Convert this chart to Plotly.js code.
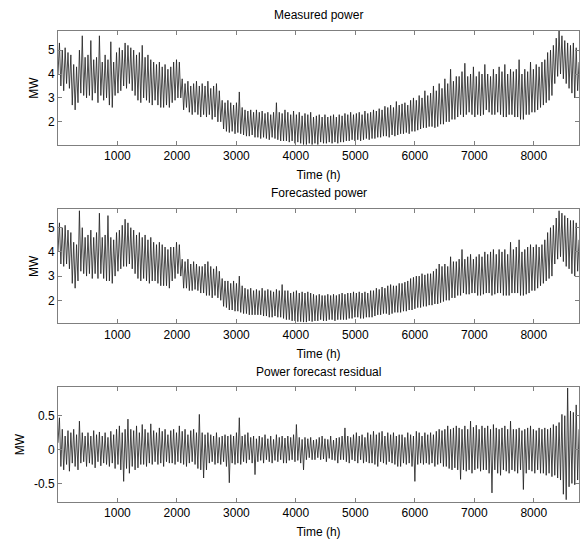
<!DOCTYPE html>
<html>
<head>
<meta charset="utf-8">
<script src="https://cdn.plot.ly/plotly-3.0.1.min.js"></script>
<style>html,body{margin:0;padding:0;background:#fff;}#chart{width:581px;height:539px;}</style>
</head>
<body>
<div id="chart"></div>
<script>
// Hours between consecutive read points
const stepHours = 24;

// Measured power (MW): alternating read peaks / troughs, one row per 480 h
const measuredPower = [
  4.0, 5.3, 3.5, 5.0, 3.3, 5.1, 3.6, 4.9, 3.4, 4.8, 2.7, 4.4, 2.5, 4.3, 2.8, 5.0, 3.2, 5.6, 3.1, 4.7,
  3.0, 4.8, 3.1, 5.4, 2.9, 4.6, 3.2, 4.7, 2.8, 5.6, 3.1, 4.5, 2.9, 4.8, 3.0, 4.6, 2.7, 5.35, 2.6, 4.5,
  3.1, 4.9, 3.2, 5.1, 3.3, 5.0, 3.5, 5.3, 3.4, 5.2, 3.6, 5.1, 3.3, 5.0, 3.1, 4.8, 2.9, 4.9, 2.8, 5.2,
  3.0, 4.7, 2.9, 4.8, 2.8, 4.6, 2.7, 4.5, 2.9, 4.4, 2.7, 4.5, 2.6, 4.3, 2.6, 4.4, 2.7, 4.2, 2.6, 4.3,
  2.8, 4.5, 2.9, 4.6, 3.0, 4.5, 3.0, 3.8, 2.5, 3.6, 2.6, 3.7, 2.4, 3.5, 2.3, 3.6, 2.4, 3.7, 2.3, 3.5,
  2.2, 3.6, 2.3, 3.5, 2.2, 3.7, 2.3, 3.4, 2.1, 3.5, 2.2, 3.6, 2.0, 3.3, 2.0, 2.9, 1.7, 2.8, 1.6, 2.9,
  1.55, 2.8, 1.6, 2.7, 1.5, 2.8, 1.55, 3.25, 1.5, 2.6, 1.45, 2.5, 1.4, 2.45, 1.4, 2.5, 1.45, 2.4, 1.35, 2.5,
  1.35, 2.4, 1.3, 2.45, 1.35, 2.35, 1.3, 2.4, 1.25, 2.3, 1.35, 2.4, 1.3, 2.8, 1.25, 2.4, 1.2, 2.35, 1.2, 2.5,
  1.2, 2.4, 1.15, 2.3, 1.2, 2.45, 1.1, 2.3, 1.15, 2.4, 1.1, 2.25, 1.05, 2.35, 1.05, 2.3, 1.1, 2.4, 1.05, 2.2,
  1.1, 2.25, 1.05, 2.3, 1.15, 2.2, 1.1, 2.3, 1.1, 2.2, 1.15, 2.25, 1.1, 2.3, 1.15, 2.2, 1.1, 2.3, 1.15, 2.25,
  1.15, 2.35, 1.2, 2.3, 1.2, 2.4, 1.25, 2.3, 1.2, 2.35, 1.25, 2.4, 1.2, 2.3, 1.25, 2.45, 1.3, 2.35, 1.25, 2.4,
  1.3, 2.5, 1.3, 2.45, 1.35, 2.55, 1.35, 2.5, 1.4, 2.65, 1.4, 2.6, 1.35, 2.7, 1.45, 2.6, 1.4, 2.85, 1.45, 2.7,
  1.5, 2.75, 1.5, 2.8, 1.55, 2.7, 1.5, 2.9, 1.6, 3.0, 1.6, 2.9, 1.65, 3.1, 1.7, 3.0, 1.75, 3.3, 1.75, 3.1,
  1.8, 3.2, 1.8, 3.5, 1.75, 3.3, 1.8, 3.6, 1.9, 3.4, 1.9, 3.8, 2.0, 3.6, 2.0, 4.2, 2.1, 3.7, 2.1, 3.9,
  2.2, 3.9, 2.3, 4.1, 2.2, 4.45, 2.3, 3.9, 2.4, 4.0, 2.3, 4.3, 2.2, 3.9, 2.3, 4.1, 2.25, 4.0, 2.3, 4.4,
  2.5, 4.0, 2.4, 3.9, 2.3, 4.2, 2.3, 4.0, 2.4, 4.3, 2.3, 4.1, 2.2, 4.4, 2.2, 4.0, 2.3, 4.2, 2.3, 4.1,
  2.2, 4.2, 2.2, 4.6, 2.1, 4.0, 2.1, 4.2, 2.3, 4.1, 2.3, 4.5, 2.4, 4.2, 2.4, 4.4, 2.5, 4.3, 2.6, 4.5,
  2.7, 4.6, 2.8, 4.9, 2.9, 5.0, 3.1, 5.2, 3.6, 5.5, 3.9, 5.8, 4.0, 5.6, 3.8, 5.4, 3.6, 5.3, 3.4, 5.2,
  3.2, 5.3, 3.0, 5.1, 3.3, 4.5
];

// Forecasted power (MW)
const forecastPower = [
  4.0, 5.2, 3.5, 5.0, 3.4, 5.1, 3.5, 4.9, 3.3, 4.8, 2.7, 4.4, 2.5, 4.3, 2.8, 5.7, 3.2, 5.0, 3.1, 4.6,
  3.0, 4.7, 3.1, 4.9, 2.9, 4.6, 3.1, 4.8, 2.9, 5.6, 3.1, 4.6, 2.9, 4.7, 2.8, 5.5, 2.8, 4.6, 2.7, 4.5,
  3.0, 4.8, 3.2, 4.9, 3.3, 5.1, 3.4, 5.35, 3.4, 5.2, 3.5, 5.0, 3.3, 4.9, 3.1, 4.7, 2.9, 4.8, 2.8, 4.6,
  2.9, 4.7, 2.8, 4.5, 2.7, 4.6, 2.8, 4.4, 2.8, 4.3, 2.7, 4.4, 2.6, 4.3, 2.6, 4.2, 2.6, 4.1, 2.5, 4.2,
  2.8, 4.2, 2.9, 4.4, 3.1, 4.3, 3.0, 3.7, 2.5, 3.6, 2.5, 3.7, 2.4, 3.5, 2.4, 3.6, 2.45, 3.5, 2.4, 3.4,
  2.3, 3.4, 2.3, 3.5, 2.2, 3.6, 2.2, 3.4, 2.1, 3.3, 2.2, 3.4, 2.1, 3.2, 2.0, 2.9, 1.75, 2.8, 1.7, 2.8,
  1.6, 2.7, 1.6, 2.8, 1.55, 2.7, 1.55, 3.0, 1.5, 2.6, 1.45, 2.5, 1.45, 2.45, 1.4, 2.5, 1.4, 2.4, 1.4, 2.45,
  1.4, 2.4, 1.4, 2.5, 1.35, 2.4, 1.35, 2.45, 1.3, 2.4, 1.3, 2.35, 1.35, 2.45, 1.3, 2.4, 1.3, 2.65, 1.25, 2.4,
  1.2, 2.4, 1.2, 2.3, 1.15, 2.35, 1.15, 2.4, 1.12, 2.3, 1.12, 2.35, 1.1, 2.3, 1.1, 2.35, 1.15, 2.3, 1.12, 2.25,
  1.15, 2.2, 1.15, 2.25, 1.2, 2.2, 1.15, 2.2, 1.15, 2.25, 1.2, 2.2, 1.2, 2.25, 1.15, 2.2, 1.2, 2.25, 1.2, 2.3,
  1.2, 2.25, 1.2, 2.3, 1.25, 2.3, 1.25, 2.35, 1.3, 2.3, 1.3, 2.35, 1.25, 2.3, 1.25, 2.35, 1.3, 2.3, 1.3, 2.4,
  1.3, 2.4, 1.35, 2.5, 1.4, 2.45, 1.4, 2.55, 1.45, 2.5, 1.45, 2.6, 1.4, 2.65, 1.45, 2.6, 1.5, 2.6, 1.5, 2.7,
  1.5, 2.7, 1.55, 2.75, 1.55, 2.8, 1.6, 2.9, 1.6, 2.95, 1.65, 3.0, 1.7, 3.0, 1.7, 3.1, 1.75, 3.05, 1.75, 3.1,
  1.8, 3.1, 1.8, 3.2, 1.85, 3.3, 1.85, 3.5, 1.9, 3.4, 1.95, 3.5, 2.0, 3.4, 2.0, 3.8, 2.1, 3.6, 2.1, 3.6,
  2.2, 3.7, 2.2, 4.1, 2.3, 3.7, 2.25, 3.8, 2.25, 3.9, 2.3, 3.7, 2.3, 3.8, 2.2, 3.9, 2.2, 3.8, 2.25, 4.0,
  2.3, 3.9, 2.3, 4.0, 2.2, 4.1, 2.25, 3.9, 2.3, 4.1, 2.3, 4.0, 2.2, 4.1, 2.2, 3.9, 2.2, 4.4, 2.3, 4.1,
  2.3, 4.2, 2.3, 4.5, 2.2, 4.0, 2.2, 4.1, 2.25, 4.2, 2.3, 4.3, 2.4, 4.2, 2.4, 4.3, 2.5, 4.2, 2.6, 4.3,
  2.7, 4.5, 2.8, 4.8, 2.9, 5.0, 3.0, 5.1, 3.5, 5.4, 3.7, 5.7, 3.8, 5.6, 3.6, 5.5, 3.4, 5.4, 3.3, 5.3,
  3.1, 5.3, 3.0, 5.2, 3.2, 4.5
];

// Power forecast residual (MW)
const residualPower = [
  0.1, 0.47, -0.25, 0.3, -0.3, 0.2, -0.22, 0.28, -0.32, 0.25, -0.2, 0.3, -0.25, 0.22, -0.3, 0.42, -0.2, 0.25, -0.18, 0.2,
  -0.25, 0.25, -0.2, 0.2, -0.22, 0.28, -0.27, 0.22, -0.18, 0.26, -0.24, 0.2, -0.2, 0.25, -0.22, 0.18, -0.25, 0.27, -0.2, 0.22,
  -0.28, 0.3, -0.22, 0.35, -0.3, 0.25, -0.47, 0.3, -0.28, 0.45, -0.35, 0.3, -0.25, 0.28, -0.3, 0.35, -0.27, 0.25, -0.22, 0.37,
  -0.22, 0.3, -0.25, 0.25, -0.2, 0.38, -0.22, 0.28, -0.18, 0.25, -0.22, 0.32, -0.2, 0.27, -0.25, 0.3, -0.18, 0.22, -0.2, 0.28,
  -0.2, 0.3, -0.22, 0.25, -0.18, 0.35, -0.2, 0.27, -0.22, 0.3, -0.25, 0.22, -0.2, 0.28, -0.18, 0.3, -0.22, 0.25, -0.28, 0.52,
  -0.3, 0.25, -0.42, 0.22, -0.3, 0.25, -0.2, 0.22, -0.18, 0.2, -0.22, 0.25, -0.2, 0.18, -0.22, 0.2, -0.18, 0.22, -0.25, 0.2,
  -0.49, 0.22, -0.2, 0.2, -0.22, 0.25, -0.2, 0.47, -0.22, 0.2, -0.18, 0.22, -0.2, 0.25, -0.15, 0.18, -0.2, 0.2, -0.37, 0.16,
  -0.18, 0.2, -0.16, 0.18, -0.2, 0.22, -0.15, 0.16, -0.18, 0.2, -0.2, 0.15, -0.16, 0.22, -0.18, 0.18, -0.15, 0.2, -0.2, 0.17,
  -0.2, 0.2, -0.16, 0.18, -0.15, 0.22, -0.18, 0.37, -0.16, 0.18, -0.2, 0.15, -0.3, 0.18, -0.15, 0.16, -0.12, 0.18, -0.15, 0.14,
  -0.15, 0.15, -0.12, 0.18, -0.15, 0.2, -0.14, 0.16, -0.18, 0.15, -0.13, 0.2, -0.15, 0.14, -0.16, 0.17, -0.2, 0.18, -0.15, 0.2,
  -0.15, 0.32, -0.18, 0.2, -0.2, 0.18, -0.15, 0.22, -0.17, 0.25, -0.2, 0.2, -0.15, 0.22, -0.2, 0.18, -0.18, 0.25, -0.2, 0.22,
  -0.2, 0.27, -0.22, 0.22, -0.25, 0.25, -0.18, 0.27, -0.2, 0.2, -0.22, 0.25, -0.18, 0.22, -0.2, 0.25, -0.22, 0.2, -0.25, 0.22,
  -0.25, 0.22, -0.2, 0.18, -0.22, 0.25, -0.2, 0.22, -0.25, 0.2, -0.47, 0.27, -0.22, 0.25, -0.2, 0.2, -0.22, 0.25, -0.2, 0.22,
  -0.22, 0.25, -0.2, 0.22, -0.25, 0.27, -0.22, 0.3, -0.2, 0.28, -0.25, 0.3, -0.25, 0.35, -0.28, 0.3, -0.3, 0.32, -0.27, 0.35,
  -0.3, 0.32, -0.44, 0.3, -0.3, 0.35, -0.32, 0.3, -0.3, 0.42, -0.35, 0.33, -0.3, 0.36, -0.28, 0.3, -0.32, 0.35, -0.3, 0.32,
  -0.3, 0.35, -0.35, 0.3, -0.64, 0.37, -0.3, 0.32, -0.35, 0.3, -0.38, 0.32, -0.3, 0.35, -0.32, 0.3, -0.35, 0.42, -0.3, 0.3,
  -0.32, 0.3, -0.35, 0.32, -0.3, 0.28, -0.59, 0.3, -0.35, 0.32, -0.3, 0.35, -0.32, 0.3, -0.35, 0.28, -0.3, 0.32, -0.35, 0.3,
  -0.35, 0.32, -0.38, 0.3, -0.35, 0.32, -0.4, 0.37, -0.38, 0.35, -0.42, 0.4, -0.45, 0.52, -0.66, 0.5, -0.74, 0.91, -0.55, 0.57,
  -0.5, 0.55, -0.52, 0.66, -0.45, 0.3
];

// Axis labelling
const titles = ["Measured power", "Forecasted power", "Power forecast residual"];
const xTickVals = [1000, 2000, 3000, 4000, 5000, 6000, 7000, 8000];
const powerTickVals = [2, 3, 4, 5];
const residualTickVals = [-0.5, 0, 0.5];
const residualTickText = ["-0.5", "0", "0.5"];

const hoursFor = arr => arr.map((_, i) => 1 + i * stepHours);

const FONT = "Liberation Sans, Arial, Helvetica, sans-serif";
const lineStyle = {color: "#1e1e1e", width: 0.8};

const traces = [
  {x: hoursFor(measuredPower), y: measuredPower, xaxis: "x", yaxis: "y", type: "scatter", mode: "lines", line: lineStyle, hoverinfo: "skip"},
  {x: hoursFor(forecastPower), y: forecastPower, xaxis: "x2", yaxis: "y2", type: "scatter", mode: "lines", line: lineStyle, hoverinfo: "skip"},
  {x: hoursFor(residualPower), y: residualPower, xaxis: "x3", yaxis: "y3", type: "scatter", mode: "lines", line: lineStyle, hoverinfo: "skip"}
];

const frame = {
  showline: true, mirror: "ticks", linecolor: "#7f7f7f", linewidth: 1,
  ticks: "inside", ticklen: 4, tickcolor: "#7f7f7f", tickwidth: 1,
  showgrid: false, zeroline: false,
  tickfont: {family: FONT, size: 12, color: "#000"}
};

function xAxis(anchor) {
  return Object.assign({}, frame, {
    anchor: anchor, range: [1, 8760], tickvals: xTickVals,
    title: {text: "Time (h)", font: {family: FONT, size: 12, color: "#000"}, standoff: 8}
  });
}
function yAxis(anchor, domain, range, tv, tt) {
  const a = Object.assign({}, frame, {
    anchor: anchor, domain: domain, range: range, tickvals: tv,
    title: {text: "MW", font: {family: FONT, size: 12, color: "#000"}, standoff: 6}
  });
  if (tt) a.ticktext = tt;
  return a;
}

const H = 539;
const dom = (top, bottom) => [(H - bottom) / H, (H - top) / H];

const layout = {
  width: 581, height: 539,
  margin: {l: 58, r: 2, t: 0, b: 0},
  paper_bgcolor: "#fff", plot_bgcolor: "#fff",
  showlegend: false,
  font: {family: FONT, size: 12, color: "#000"},
  xaxis: xAxis("y"),
  yaxis: yAxis("x", dom(31, 145), [1.03, 5.8], powerTickVals),
  xaxis2: xAxis("y2"),
  yaxis2: yAxis("x2", dom(209.3, 323.3), [1.05, 5.76], powerTickVals),
  xaxis3: xAxis("y3"),
  yaxis3: yAxis("x3", dom(387.3, 501.7), [-0.77, 0.92], residualTickVals, residualTickText),
  annotations: [
    {text: titles[0], xref: "paper", yref: "paper", x: 0.5, y: (H - 15) / H, showarrow: false, xanchor: "center", yanchor: "middle", font: {family: FONT, size: 12}},
    {text: titles[1], xref: "paper", yref: "paper", x: 0.5, y: (H - 193) / H, showarrow: false, xanchor: "center", yanchor: "middle", font: {family: FONT, size: 12}},
    {text: titles[2], xref: "paper", yref: "paper", x: 0.5, y: (H - 372) / H, showarrow: false, xanchor: "center", yanchor: "middle", font: {family: FONT, size: 12}}
  ]
};

Plotly.newPlot("chart", traces, layout, {staticPlot: true, displayModeBar: false});
</script>
</body>
</html>
